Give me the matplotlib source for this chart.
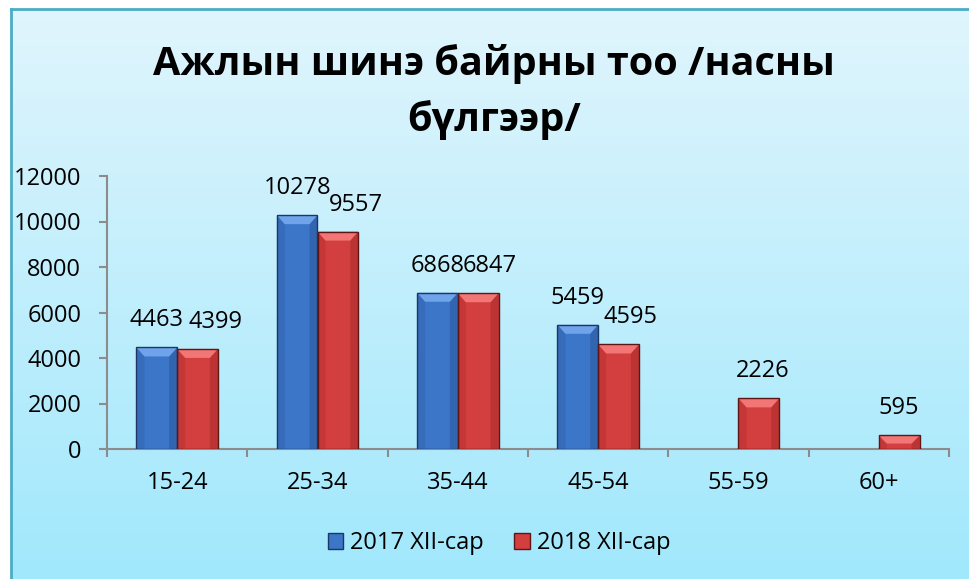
import numpy as np
import matplotlib
matplotlib.use("Agg")
import matplotlib.pyplot as plt
from matplotlib.patches import Rectangle, Polygon
from matplotlib.colors import LinearSegmentedColormap

plt.rcParams['font.family'] = ['Open Sans', 'DejaVu Sans']

categories = ['15-24', '25-34', '35-44', '45-54', '55-59', '60+']
jobs_2017 = [4463, 10278, 6868, 5459, np.nan, np.nan]
jobs_2018 = [4399, 9557, 6847, 4595, 2226, 595]
series_names = ['2017 XII-сар', '2018 XII-сар']
yticks = [0, 2000, 4000, 6000, 8000, 10000, 12000]
title = 'Ажлын шинэ байрны тоо /насны\nбүлгээр/'

W, H = 969, 579
fig = plt.figure(figsize=(W / 100, H / 100), dpi=100)
fig.patch.set_facecolor('white')

# background panel with vertical gradient and teal border (left/top)
bg = fig.add_axes([10.5 / W, 0, 1 - 10.5 / W, 1 - 9 / H])
grad = LinearSegmentedColormap.from_list('bg', ['#a1e8fc', '#e0f5fd'])
bg.imshow(np.linspace(0, 1, 256).reshape(-1, 1), aspect='auto', cmap=grad,
          origin='lower', extent=[0, 1, 0, 1])
bg.set_xticks([])
bg.set_yticks([])
for s in ['right', 'bottom']:
    bg.spines[s].set_visible(False)
for s in ['left', 'top']:
    bg.spines[s].set_color('#4bacc6')
    bg.spines[s].set_linewidth(2)

ax = fig.add_axes([107 / W, 1 - 449 / H, (949 - 107) / W, (449 - 176) / H])
ax.patch.set_alpha(0)

x = np.arange(len(categories))
bw = 0.29
ax.set_xlim(-0.5, len(categories) - 0.5)
ax.set_ylim(0, 12000)

# pixel -> data sizes for the bevel
px_x = 1 / ((949 - 107) / len(categories))
px_y = 12000 / (449 - 176)

styles = [
    dict(face='#3c76c8', dark='#2a5599', light='#6fa3ea', edge='#1c3766'),
    dict(face='#d33e3e', dark='#a52a2a', light='#f27676', edge='#5e1515'),
]


def draw_bar(xc, h, st):
    x0, x1 = xc - bw / 2, xc + bw / 2
    bx, by = 8 * px_x, 9 * px_y
    ax.add_patch(Rectangle((x0, 0), bw, h, facecolor=st['face'],
                           edgecolor='none', zorder=3))
    # side shading
    ax.add_patch(Polygon([(x0, 0), (x0 + bx, 0), (x0 + bx, h - by), (x0, h)],
                         facecolor=st['dark'], alpha=0.3, edgecolor='none', zorder=3))
    ax.add_patch(Polygon([(x1, 0), (x1 - bx, 0), (x1 - bx, h - by), (x1, h)],
                         facecolor=st['dark'], alpha=0.5, edgecolor='none', zorder=3))
    # top highlight
    top_by = min(by, h * 0.6)
    ax.add_patch(Polygon([(x0, h), (x1, h), (x1 - bx, h - top_by), (x0 + bx, h - top_by)],
                         facecolor=st['light'], edgecolor='none', zorder=3))
    ax.add_patch(Rectangle((x0, 0), bw, h, facecolor='none',
                           edgecolor=st['edge'], linewidth=1, zorder=4))


red_dx = [17.5, 18.5, 12, 12, 4, 0]
for i in range(len(categories)):
    for k, vals in enumerate([jobs_2017, jobs_2018]):
        v = vals[i]
        if np.isnan(v):
            continue
        xc = x[i] + (k - 0.5) * bw
        draw_bar(xc, v, styles[k])
        dx = red_dx[i] if k == 1 else 0
        ax.annotate(f'{int(v)}', (xc, v), xytext=(dx, 27), textcoords='offset pixels',
                    ha='center', va='center', fontsize=17, color='black')

# axes styling
for s in ['top', 'right']:
    ax.spines[s].set_visible(False)
for s in ['left', 'bottom']:
    ax.spines[s].set_color('#8c8c8c')
    ax.spines[s].set_linewidth(1.5)
ax.set_yticks(yticks)
ax.set_yticklabels([str(t) for t in yticks], fontsize=17)
ax.set_xticks(np.arange(-0.5, len(categories)), minor=False)
ax.set_xticklabels([])
ax.set_xticks(x, minor=True)
ax.set_xticklabels(categories, minor=True, fontsize=17)
ax.tick_params(axis='x', which='major', length=6, width=1.5, color='#8c8c8c', direction='out')
ax.tick_params(axis='x', which='minor', length=0, pad=16)
ax.tick_params(axis='y', length=6, width=1.5, color='#8c8c8c', pad=12.5)

fig.text(494 / W, 1 - 92 / H, title, ha='center', va='center', fontsize=28.5,
         fontweight='bold', linespacing=1.5)

handles = [Rectangle((0, 0), 1, 1, facecolor=st['face'], edgecolor=st['edge'])
           for st in styles]
fig.legend(handles, series_names, loc='center', bbox_to_anchor=(499 / W, 1 - 543 / H),
           ncol=2, frameon=False, fontsize=17, handlelength=0.65, handleheight=0.65,
           handletextpad=0.3, columnspacing=1.3)

fig.savefig('out.png', dpi=100)
